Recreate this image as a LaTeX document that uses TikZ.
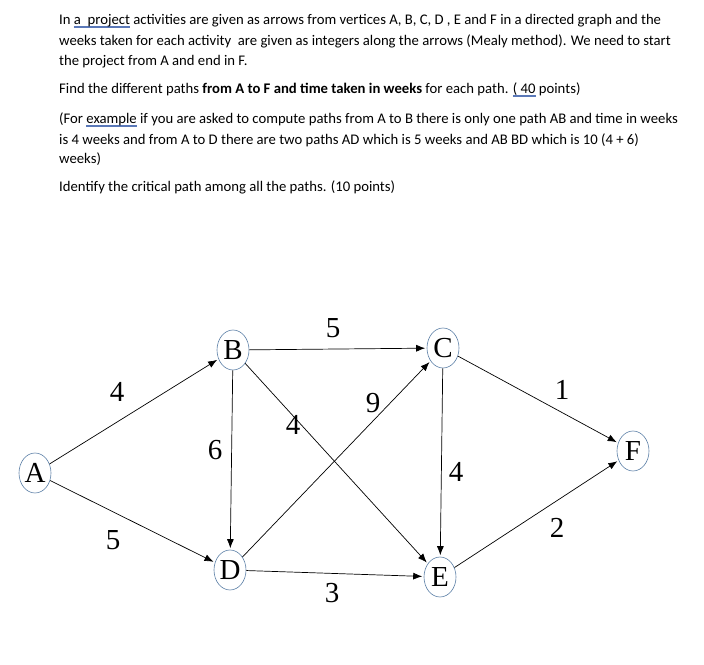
\documentclass[tikz,border=0pt]{standalone}
\usepackage{fontspec}
\setmainfont{Liberation Serif}
\newfontfamily\qfont{Carlito}
\usetikzlibrary{shapes.geometric,arrows.meta}
\definecolor{nodeblue}{HTML}{5B7FA6}
\definecolor{ulblue}{HTML}{5A78B8}
\newcommand\dul[1]{\setbox0\hbox{#1}\rlap{\color{ulblue}\raisebox{-2.0pt}{\rule{\wd0}{0.4pt}}}\rlap{\color{ulblue}\raisebox{-3.3pt}{\rule{\wd0}{0.4pt}}}\box0\relax}
\tikzset{
  vert/.style={ellipse,draw=nodeblue,line width=0.6pt,minimum width=32pt,minimum height=40pt,inner sep=0pt,font=\fontsize{29}{29}\selectfont},
  arr/.style={line width=0.7pt,shorten >=1.5pt,-{Latex[length=9pt,width=7pt]}},
  wt/.style={font=\fontsize{29}{29}\selectfont,inner sep=0pt},
  qline/.style={anchor=base west,inner sep=0pt,font=\qfont\fontsize{14.7}{16}\selectfont}
}
\begin{document}
\begin{tikzpicture}[x=1pt,y=-1pt]
\useasboundingbox[fill=white] (0,0) rectangle (704,664);
% question text
\node[qline] (t1) at (59,24) {In \dul{a\ \ project} activities are given as arrows from vertices A, B, C, D , E and F in a directed graph and the};
\node[qline] (t2) at (59,45) {weeks taken for each activity\ \ are given as integers along the arrows (Mealy method). We need to start};
\node[qline] (t3) at (59,65) {the project from A and end in F.};
\node[qline] (t4) at (59,93) {Find the different paths \textbf{from A to F and time taken in weeks} for each path. \dul{( 40} points)};
\node[qline] (t5) at (59,123) {(For \dul{example} if you are asked to compute paths from A to B there is only one path AB and time in weeks};
\node[qline] (t6) at (59,144) {is 4 weeks and from A to D there are two paths AD which is 5 weeks and AB BD which is 10 (4 + 6)};
\node[qline] (t7) at (59,163) {weeks)};
\node[qline] (t8) at (59,191) {Identify the critical path among all the paths. (10 points)};
% vertices
\node[vert] (A) at (35,473) {A};
\node[vert] (B) at (233,350) {B};
\node[vert] (C) at (443,348) {C};
\node[vert] (D) at (230,570) {D};
\node[vert] (E) at (440,577) {E};
\node[vert] (F) at (633,451) {F};
% edges
\draw[arr] (A) -- (B);
\draw[arr] (A) -- (D);
\draw[arr] (B) -- (D);
\draw[arr] (B) -- (C);
\draw[arr] (B) -- (E);
\draw[arr] (D) -- (C);
\draw[arr] (D) -- (E);
\draw[arr] (C) -- (E);
\draw[arr] (C) -- (F);
\draw[arr] (E) -- (F);
% weights
\node[wt] (wAB) at (117,392) {4};
\node[wt] (wAD) at (113,540) {5};
\node[wt] (wBD) at (215,450) {6};
\node[wt] (wBE) at (293,425) {4};
\node[wt] (wBC) at (333,328) {5};
\node[wt] (wDC) at (373,403) {9};
\node[wt] (wCE) at (456,472) {4};
\node[wt] (wCF) at (562,390) {1};
\node[wt] (wEF) at (557,528) {2};
\node[wt] (wDE) at (332,593) {3};
\end{tikzpicture}
\end{document}
